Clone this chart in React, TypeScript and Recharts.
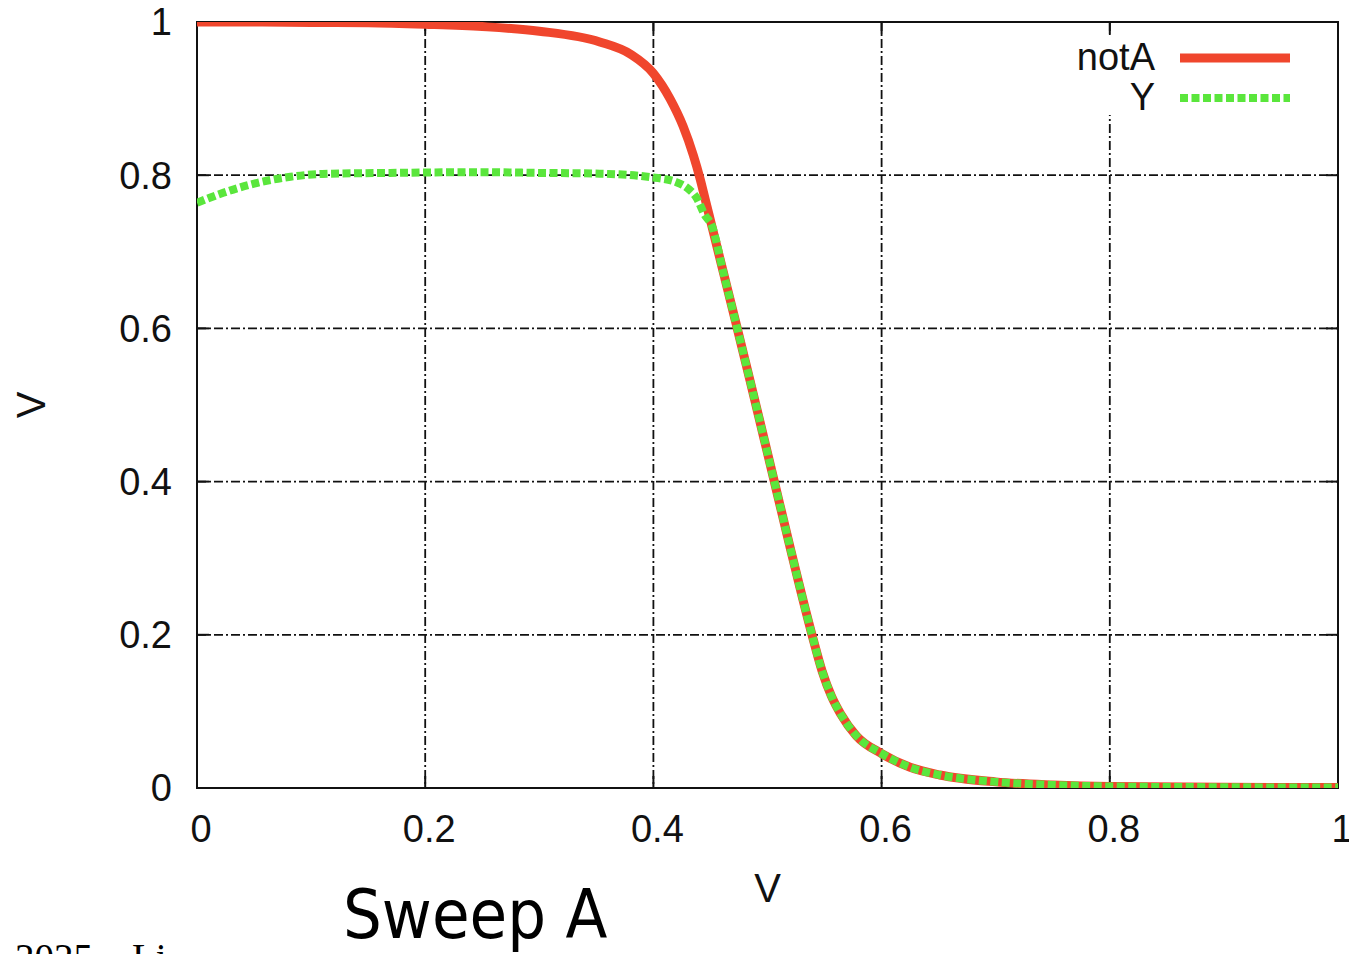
import React from "react";
import {
  LineChart,
  Line,
  XAxis,
  YAxis,
  CartesianGrid,
  Legend,
  ReferenceArea,
  ReferenceLine,
  Label,
} from "recharts";

// ---- data ----
const notAX = [0, 0.05, 0.1, 0.15, 0.2, 0.25, 0.3, 0.353, 0.38, 0.4, 0.4145, 0.426, 0.435, 0.441, 0.446, 0.451, 0.461, 0.4715, 0.485, 0.496, 0.506, 0.52, 0.539, 0.548, 0.556, 0.564, 0.578, 0.6, 0.625, 0.651, 0.7, 0.75, 0.8, 0.9, 1];
const notAV = [1.0, 1.0, 0.9995, 0.999, 0.997, 0.994, 0.988, 0.974, 0.958, 0.933, 0.9, 0.864, 0.826, 0.795, 0.765, 0.735, 0.675, 0.612, 0.53, 0.462, 0.4, 0.313, 0.2, 0.152, 0.12, 0.097, 0.068, 0.045, 0.027, 0.017, 0.008, 0.004, 0.002, 0.001, 0.0005];

const yX = [0, 0.023, 0.053, 0.082, 0.11, 0.169, 0.25, 0.3, 0.353, 0.4, 0.42, 0.43, 0.438, 0.445, 0.451, 0.461, 0.4715, 0.485, 0.496, 0.506, 0.52, 0.539, 0.548, 0.556, 0.564, 0.578, 0.6, 0.625, 0.651, 0.7, 0.75, 0.8, 0.9, 1];
const yV = [0.764, 0.777, 0.79, 0.798, 0.8016, 0.803, 0.804, 0.803, 0.802, 0.797, 0.791, 0.783, 0.77, 0.748, 0.735, 0.675, 0.612, 0.53, 0.462, 0.4, 0.313, 0.2, 0.152, 0.12, 0.097, 0.068, 0.045, 0.027, 0.017, 0.008, 0.004, 0.002, 0.001, 0.0005];

const xTicks = [0, 0.2, 0.4, 0.6, 0.8, 1];
const yTicks = [0, 0.2, 0.4, 0.6, 0.8, 1];
const seriesNames = ["notA", "Y"];
const axisTitle = "V";
const slideTitle = "Sweep A";
const footerText = "2025 – Li";

const notAData = notAX.map((x, i) => ({ x, v: notAV[i] }));
const yData = yX.map((x, i) => ({ x, v: yV[i] }));

const RED = "#f0462d";
const GREEN = "#5ae63c";
const TICK_FONT = "'Liberation Sans', Arial, Helvetica, sans-serif";

const W = 1349;
const H = 954;

const tickLenY = 12 / 766;
const tickLenX = 12 / 1141;

function renderLegend(props: any) {
  const payload = [...(props.payload || [])].sort(
    (a: any, b: any) => seriesNames.indexOf(a.value) - seriesNames.indexOf(b.value)
  );
  return (
    <svg width={235} height={80} style={{ display: "block" }}>
      <rect x={0} y={0} width={235} height={80} fill="#fff" />
      {payload.map((entry: any, i: number) => {
        const cy = 22 + i * 40;
        const dash = entry.payload?.strokeDasharray;
        const sw = entry.payload?.strokeWidth ?? 8;
        return (
          <g key={entry.value}>
            <text
              x={93}
              y={cy}
              textAnchor="end"
              dominantBaseline="central"
              fontSize={38}
              fontFamily={TICK_FONT}
              fill="#111"
            >
              {entry.value}
            </text>
            <line
              x1={118}
              x2={228}
              y1={cy + 1}
              y2={cy + 1}
              stroke={entry.color}
              strokeWidth={sw}
              strokeDasharray={dash}
            />
          </g>
        );
      })}
    </svg>
  );
}

export default function App() {
  return (
    <div style={{ position: "absolute", left: 0, top: 0, width: W, height: H, background: "#fff", overflow: "hidden" }}>
      <LineChart
        width={W}
        height={H}
        margin={{ top: 22, right: 11, bottom: 106, left: 17 }}
      >
        <CartesianGrid
          stroke="#111"
          strokeWidth={1.8}
          strokeDasharray="9 3 2 3"
          horizontalValues={yTicks}
          verticalValues={xTicks}
        />
        <XAxis
          type="number"
          dataKey="x"
          domain={[0, 1]}
          ticks={xTicks}
          allowDataOverflow
          axisLine={false}
          tickLine={false}
          tickSize={0}
          tickMargin={27}
          height={60}
          tick={{ fontSize: 38, fill: "#111", fontFamily: TICK_FONT, dx: 4 }}
          tickFormatter={(v: number) => String(v)}
        >
          <Label
            content={(p: any) => {
              const vb = p.viewBox || {};
              return (
                <text
                  x={vb.x + vb.width / 2}
                  y={vb.y + 114}
                  textAnchor="middle"
                  fontSize={40}
                  fontFamily={TICK_FONT}
                  fill="#111"
                >
                  {axisTitle}
                </text>
              );
            }}
          />
        </XAxis>
        <YAxis
          type="number"
          dataKey="v"
          domain={[0, 1]}
          ticks={yTicks}
          allowDataOverflow
          axisLine={false}
          tickLine={false}
          tickSize={0}
          tickMargin={25}
          width={180}
          tick={{ fontSize: 38, fill: "#111", fontFamily: TICK_FONT }}
          tickFormatter={(v: number) => String(v)}
        >
          <Label
            content={(p: any) => {
              const vb = p.viewBox || {};
              const cx = vb.x + 28;
              const cy = vb.y + vb.height / 2;
              return (
                <text
                  x={cx}
                  y={cy}
                  textAnchor="middle"
                  fontSize={40}
                  fontFamily={TICK_FONT}
                  fill="#111"
                  transform={`rotate(-90, ${cx}, ${cy})`}
                >
                  {axisTitle}
                </text>
              );
            }}
          />
        </YAxis>
        {xTicks.map((t) => (
          <ReferenceLine
            key={`xb${t}`}
            segment={[{ x: t, y: 0 }, { x: t, y: tickLenY }]}
            stroke="#111"
            strokeWidth={2}
          />
        ))}
        {xTicks.map((t) => (
          <ReferenceLine
            key={`xt${t}`}
            segment={[{ x: t, y: 1 }, { x: t, y: 1 - tickLenY }]}
            stroke="#111"
            strokeWidth={2}
          />
        ))}
        {yTicks.map((t) => (
          <ReferenceLine
            key={`yl${t}`}
            segment={[{ x: 0, y: t }, { x: tickLenX, y: t }]}
            stroke="#111"
            strokeWidth={2}
          />
        ))}
        {yTicks.map((t) => (
          <ReferenceLine
            key={`yr${t}`}
            segment={[{ x: 1, y: t }, { x: 1 - tickLenX, y: t }]}
            stroke="#111"
            strokeWidth={2}
          />
        ))}
        <ReferenceArea
          x1={0}
          x2={1}
          y1={0}
          y2={1}
          fill="none"
          fillOpacity={0}
          stroke="#111"
          strokeWidth={2}
        />
        <Line
          data={notAData}
          dataKey="v"
          name={seriesNames[0]}
          type="monotone"
          stroke={RED}
          strokeWidth={9}
          dot={false}
          isAnimationActive={false}
        />
        <Line
          data={yData}
          dataKey="v"
          name={seriesNames[1]}
          type="monotone"
          stroke={GREEN}
          strokeWidth={8}
          strokeDasharray="8 3.5"
          dot={false}
          isAnimationActive={false}
        />
        <Legend
          layout="horizontal"
          verticalAlign="middle"
          align="center"
          content={renderLegend}
          wrapperStyle={{ position: "absolute", top: 35, left: 1062, width: 235, height: 80 }}
        />
      </LineChart>
      <svg
        width={W}
        height={H}
        style={{ position: "absolute", left: 0, top: 0, pointerEvents: "none" }}
      >
        <text
          x={343}
          y={938}
          fontSize={68}
          fontFamily="'DejaVu Sans Condensed', 'DejaVu Sans', sans-serif"
          fill="#000"
        >
          {slideTitle}
        </text>
        <text
          x={15}
          y={971}
          fontSize={39}
          fontFamily="'Liberation Serif', 'Times New Roman', serif"
          fill="#000"
        >
          {footerText}
        </text>
      </svg>
    </div>
  );
}
